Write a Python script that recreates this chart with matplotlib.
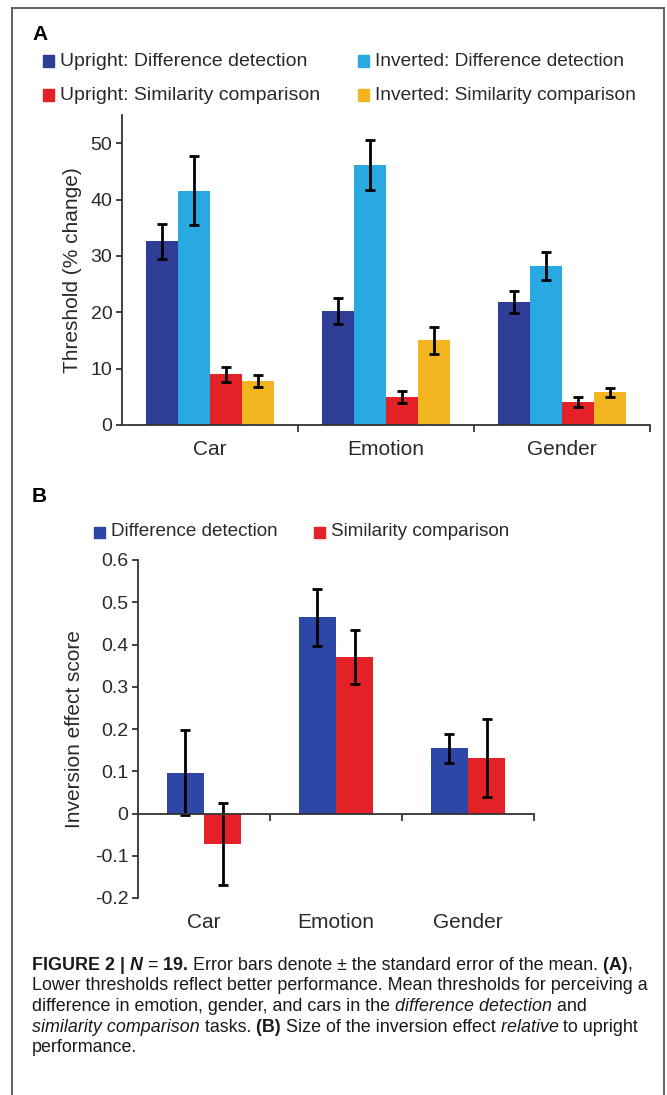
import numpy as np
import matplotlib
matplotlib.use("Agg")
import matplotlib.pyplot as plt
from matplotlib.patches import Rectangle
from matplotlib.lines import Line2D
from matplotlib.ticker import FuncFormatter

# data
categories = ["Car", "Emotion", "Gender"]

# panel A: thresholds (% change)
a_labels = ["Upright: Difference detection", "Inverted: Difference detection",
            "Upright: Similarity comparison", "Inverted: Similarity comparison"]
up_diff = [32.6, 20.2, 21.8]
up_diff_err = [3.1, 2.3, 1.9]
inv_diff = [41.6, 46.1, 28.2]
inv_diff_err = [6.1, 4.4, 2.5]
up_sim = [9.0, 5.0, 4.1]
up_sim_err = [1.3, 1.1, 0.9]
inv_sim = [7.8, 15.0, 5.8]
inv_sim_err = [1.0, 2.4, 0.75]

# panel B: inversion effect score
b_labels = ["Difference detection", "Similarity comparison"]
b_diff = [0.097, 0.464, 0.154]
b_diff_err = [0.10, 0.068, 0.035]
b_sim = [-0.072, 0.370, 0.132]
b_sim_err = [0.097, 0.064, 0.092]

DARK_BLUE = "#2E3E96"
LIGHT_BLUE = "#29A9E1"
RED = "#E42127"
YELLOW = "#F3B51F"
B_BLUE = "#2C47A5"

plt.rcParams['font.family'] = ['Liberation Sans', 'DejaVu Sans']
plt.rcParams['axes.unicode_minus'] = False
TXT = "#2a2a2a"

W, H = 667, 1095
fig = plt.figure(figsize=(W / 100, H / 100), dpi=100)
fig.patch.set_facecolor("white")


def fx(x):
    return x / W


def fy(y):
    return 1 - y / H


def ax_box(left, top, right, bottom):
    return [fx(left), fy(bottom), (right - left) / W, (bottom - top) / H]


def style_axis(ax):
    for s in ["top", "right"]:
        ax.spines[s].set_visible(False)
    for s in ["left", "bottom"]:
        ax.spines[s].set_linewidth(1.3)
        ax.spines[s].set_color("#333333")
    ax.tick_params(axis="y", direction="out", length=4, width=1.3, colors="#333333",
                   labelcolor=TXT, labelsize=14, pad=3)
    ax.set_xlim(0, 3)
    ax.set_xticks([1, 2, 3], minor=True)
    ax.tick_params(axis="x", which="minor", direction="out", length=5, width=1.3, colors="#333333")
    ax.set_facecolor("white")


err_kw = dict(ecolor="black", elinewidth=2, capsize=3.3, capthick=2)

# ---------- panel A ----------
axA = fig.add_axes(ax_box(122, 115, 650, 425))
style_axis(axA)
x = np.arange(3) + 0.5
w = 0.182
seriesA = [(up_diff, up_diff_err, DARK_BLUE), (inv_diff, inv_diff_err, LIGHT_BLUE),
           (up_sim, up_sim_err, RED), (inv_sim, inv_sim_err, YELLOW)]
for i, (vals, errs, col) in enumerate(seriesA):
    axA.bar(x + (i - 1.5) * w, vals, w, color=col, yerr=errs, error_kw=err_kw, zorder=2)
axA.set_ylim(0, 55)
axA.set_yticks(np.arange(0, 51, 10))
axA.set_xticks(x)
axA.set_xticklabels(categories, fontsize=15, color=TXT)
axA.tick_params(axis="x", which="major", length=0, pad=11)
axA.set_ylabel("Threshold (% change)", fontsize=15, color=TXT, labelpad=6)

# ---------- panel B ----------
axB = fig.add_axes(ax_box(138, 560, 534, 898))
style_axis(axB)
wb = 0.284
axB.bar(x - wb / 2, b_diff, wb, color=B_BLUE, yerr=b_diff_err, error_kw=err_kw, zorder=2)
axB.bar(x + wb / 2, b_sim, wb, color=RED, yerr=b_sim_err, error_kw=err_kw, zorder=2)
axB.set_ylim(-0.2, 0.6)
axB.set_yticks(np.round(np.arange(-0.2, 0.61, 0.1), 1))
axB.yaxis.set_major_formatter(FuncFormatter(lambda v, p: "0" if abs(v) < 1e-9 else f"{v:.1f}"))
axB.spines["bottom"].set_position(("data", 0))
axB.set_xticks([])
axB.tick_params(axis="x", which="minor", labelbottom=False)
for xi, cat in zip(x, categories):
    axB.annotate(cat, (xi, 0), xycoords=("data", "axes fraction"), xytext=(0, -18),
                 textcoords="offset points", ha="center", va="center", fontsize=15, color=TXT)
axB.set_ylabel("Inversion effect score", fontsize=15, color=TXT, labelpad=8)

# ---------- legends ----------
def legend_entry(xs, y, color, label, fs=14, size=11):
    fig.patches.append(Rectangle((fx(xs), fy(y + size / 2)), size / W, size / H,
                                 transform=fig.transFigure, color=color, zorder=5))
    fig.text(fx(xs + size + 6), fy(y), label, fontsize=fs, color=TXT, va="center", ha="left")


legend_entry(43, 61, DARK_BLUE, a_labels[0])
legend_entry(358, 61, LIGHT_BLUE, a_labels[1], fs=13.8)
legend_entry(43, 95, RED, a_labels[2])
legend_entry(358, 95, YELLOW, a_labels[3], fs=13.8)
legend_entry(94, 532, B_BLUE, b_labels[0], fs=13.6)
legend_entry(314, 532, RED, b_labels[1], fs=13.6)

fig.text(fx(32), fy(35), "A", fontsize=15, fontweight="bold", va="center", color="black")
fig.text(fx(32), fy(497), "B", fontsize=15, fontweight="bold", va="center", color="black")

# ---------- frame ----------
frame_kw = dict(transform=fig.transFigure, color="#555555", linewidth=1.3)
fig.add_artist(Line2D([fx(12), fx(12)], [fy(8), fy(H)], **frame_kw))
fig.add_artist(Line2D([fx(12), fx(664)], [fy(8), fy(8)], **frame_kw))
fig.add_artist(Line2D([fx(664), fx(664)], [fy(8), fy(H)], **frame_kw))

# ---------- caption ----------
caption = [
    [("FIGURE 2 |", "bold", "normal"), (" N", "bold", "italic"), (" =", "normal", "normal"),
     (" 19.", "bold", "normal"), (" Error bars denote \u00b1 the standard error of the mean.", "normal", "normal"),
     (" (A)", "bold", "normal"), (",", "normal", "normal")],
    [("Lower thresholds reflect better performance. Mean thresholds for perceiving a", "normal", "normal")],
    [("difference in emotion, gender, and cars in the", "normal", "normal"),
     (" difference detection", "normal", "italic"), (" and", "normal", "normal")],
    [("similarity comparison", "normal", "italic"), (" tasks.", "normal", "normal"),
     (" (B)", "bold", "normal"), (" Size of the inversion effect", "normal", "normal"),
     (" relative", "normal", "italic"), (" to upright", "normal", "normal")],
    [("performance.", "normal", "normal")],
]
renderer = fig.canvas.get_renderer()
cap_size = 12.9
for k, line in enumerate(caption):
    xpos = 32
    ybase = 970 + k * 20.5
    for txt, wt, st in line:
        t = fig.text(fx(xpos), fy(ybase), txt, fontsize=cap_size, fontweight=wt,
                     fontstyle=st, va="baseline", ha="left", color="#1a1a1a")
        xpos += t.get_window_extent(renderer=renderer).width

fig.savefig("out.png", dpi=100)
